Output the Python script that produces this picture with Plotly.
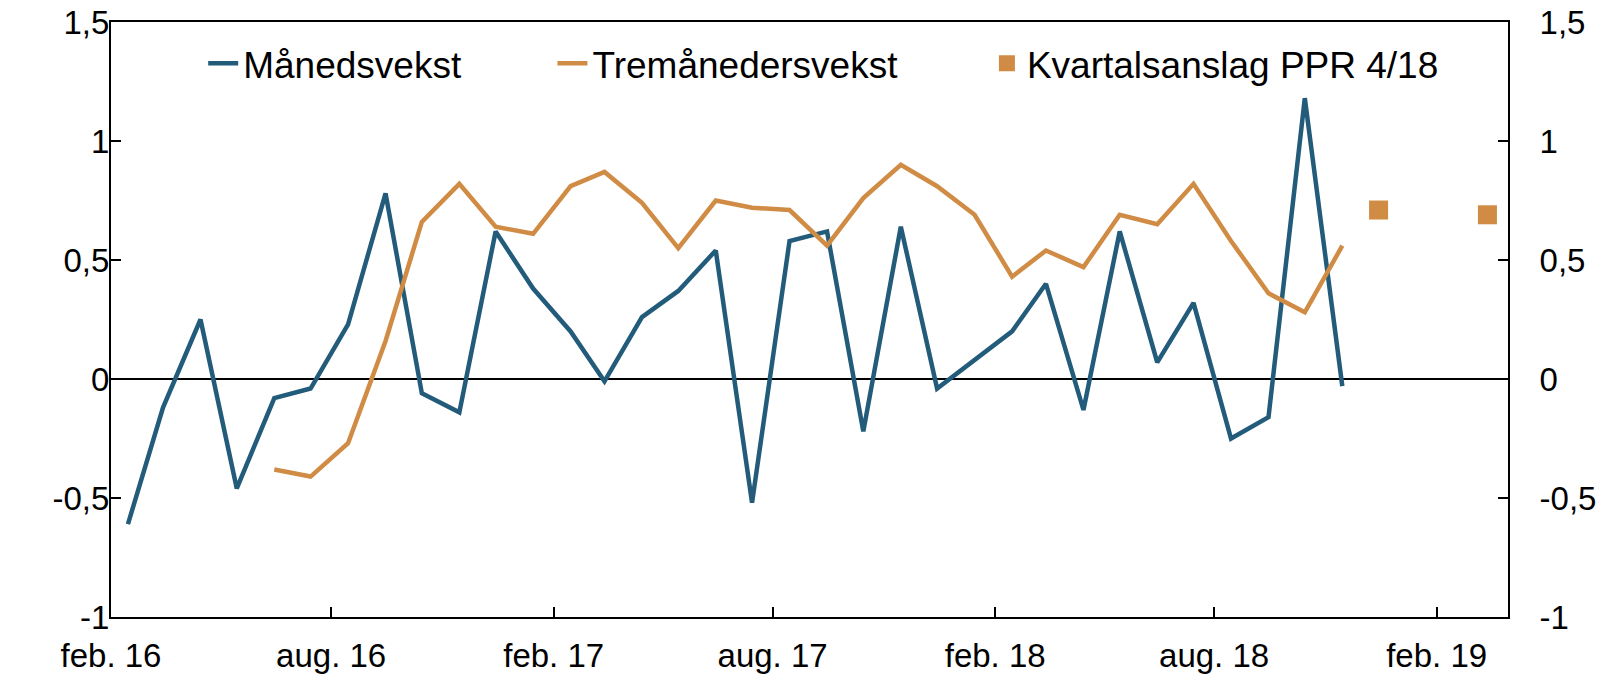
import plotly.graph_objects as go

# Monthly observations, plotted mid-month
months = [f"{y}-{m:02d}-15" for y, m in
          [(2016, m) for m in range(2, 13)] + [(2017, m) for m in range(1, 13)] + [(2018, m) for m in range(1, 12)]]

maanedsvekst = [-0.61, -0.12, 0.25, -0.46, -0.08, -0.04, 0.23, 0.78, -0.06, -0.14,
                0.62, 0.38, 0.20, -0.01, 0.26, 0.37, 0.54, -0.52, 0.58, 0.62,
                -0.22, 0.64, -0.04, 0.08, 0.20, 0.40, -0.13, 0.62, 0.07, 0.32,
                -0.25, -0.16, 1.18, -0.03]

tremaanedersvekst = [None, None, None, None, -0.38, -0.41, -0.27, 0.16, 0.66, 0.82,
                     0.64, 0.61, 0.81, 0.87, 0.74, 0.55, 0.75, 0.72, 0.71, 0.56,
                     0.76, 0.90, 0.81, 0.69, 0.43, 0.54, 0.47, 0.69, 0.65, 0.82,
                     0.58, 0.36, 0.28, 0.56]

kvartal_dates = ["2018-12-15", "2019-03-15"]
kvartalsanslag = [0.71, 0.69]

tick_dates = ["2016-02-01", "2016-08-01", "2017-02-01", "2017-08-01",
              "2018-02-01", "2018-08-01", "2019-02-01"]
tick_labels = ["feb. 16", "aug. 16", "feb. 17", "aug. 17", "feb. 18", "aug. 18", "feb. 19"]

y_ticks = [-1, -0.5, 0, 0.5, 1, 1.5]
y_labels = ["-1", "-0,5", "0", "0,5", "1", "1,5"]

BLUE = "#235B7B"
ORANGE = "#D08C45"
FONT = "Liberation Sans, Arial, sans-serif"

fig = go.Figure()
fig.add_trace(go.Scatter(
    x=months, y=maanedsvekst, mode="lines", name="Månedsvekst",
    line=dict(color=BLUE, width=4.5), legend="legend"
))
fig.add_trace(go.Scatter(
    x=months, y=tremaanedersvekst, mode="lines", name="Tremånedersvekst",
    line=dict(color=ORANGE, width=4.5), legend="legend2"
))
fig.add_trace(go.Scatter(
    x=kvartal_dates, y=kvartalsanslag, mode="markers", name="Kvartalsanslag PPR 4/18",
    marker=dict(color=ORANGE, symbol="square", size=19), legend="legend3"
))
# invisible trace to carry the right-hand axis
fig.add_trace(go.Scatter(x=[months[0]], y=[0], yaxis="y2", mode="markers",
                         marker=dict(opacity=0), showlegend=False, hoverinfo="skip"))

legend_style = dict(orientation="h", yanchor="middle", y=0.93, xanchor="left",
                    bgcolor="rgba(0,0,0,0)", font=dict(family=FONT, size=37, color="#000000"),
                    itemwidth=30)

axis_font = dict(family=FONT, size=33, color="#000000")

fig.update_layout(
    width=1616, height=681,
    paper_bgcolor="white", plot_bgcolor="white",
    margin=dict(l=111, r=108, t=22, b=64),
    font=dict(family=FONT, size=33, color="#000000"),
    showlegend=True,
    legend=dict(legend_style, x=0.066),
    legend2=dict(legend_style, x=0.316),
    legend3=dict(legend_style, x=0.627),
    xaxis=dict(
        type="date", range=["2016-02-01", "2019-04-01"],
        tickmode="array", tickvals=tick_dates, ticktext=tick_labels,
        ticks="inside", ticklen=10, tickwidth=1.5, tickcolor="#000000",
        showline=True, linecolor="#000000", linewidth=2, mirror=True,
        showgrid=False, zeroline=False, automargin=False,
        tickfont=axis_font, ticklabelstandoff=8,
    ),
    yaxis=dict(
        range=[-1, 1.5], tickmode="array", tickvals=y_ticks, ticktext=y_labels,
        ticks="inside", ticklen=10, tickwidth=1.5, tickcolor="#000000",
        showline=True, linecolor="#000000", linewidth=2,
        showgrid=False, zeroline=True, zerolinecolor="#000000", zerolinewidth=1.5,
        automargin=False, tickfont=axis_font, ticklabelstandoff=-7,
    ),
    yaxis2=dict(
        range=[-1, 1.5], overlaying="y", side="right",
        tickmode="array", tickvals=y_ticks, ticktext=y_labels,
        ticks="inside", ticklen=10, tickwidth=1.5, tickcolor="#000000",
        showline=True, linecolor="#000000", linewidth=2,
        showgrid=False, zeroline=False, automargin=False,
        tickfont=axis_font, ticklabelstandoff=23,
    ),
)

# drop the page's default body margin so the figure sits at the top-left corner
fig.write_html("out.html", config={"displayModeBar": False},
               post_script="document.body.style.margin='0';")
